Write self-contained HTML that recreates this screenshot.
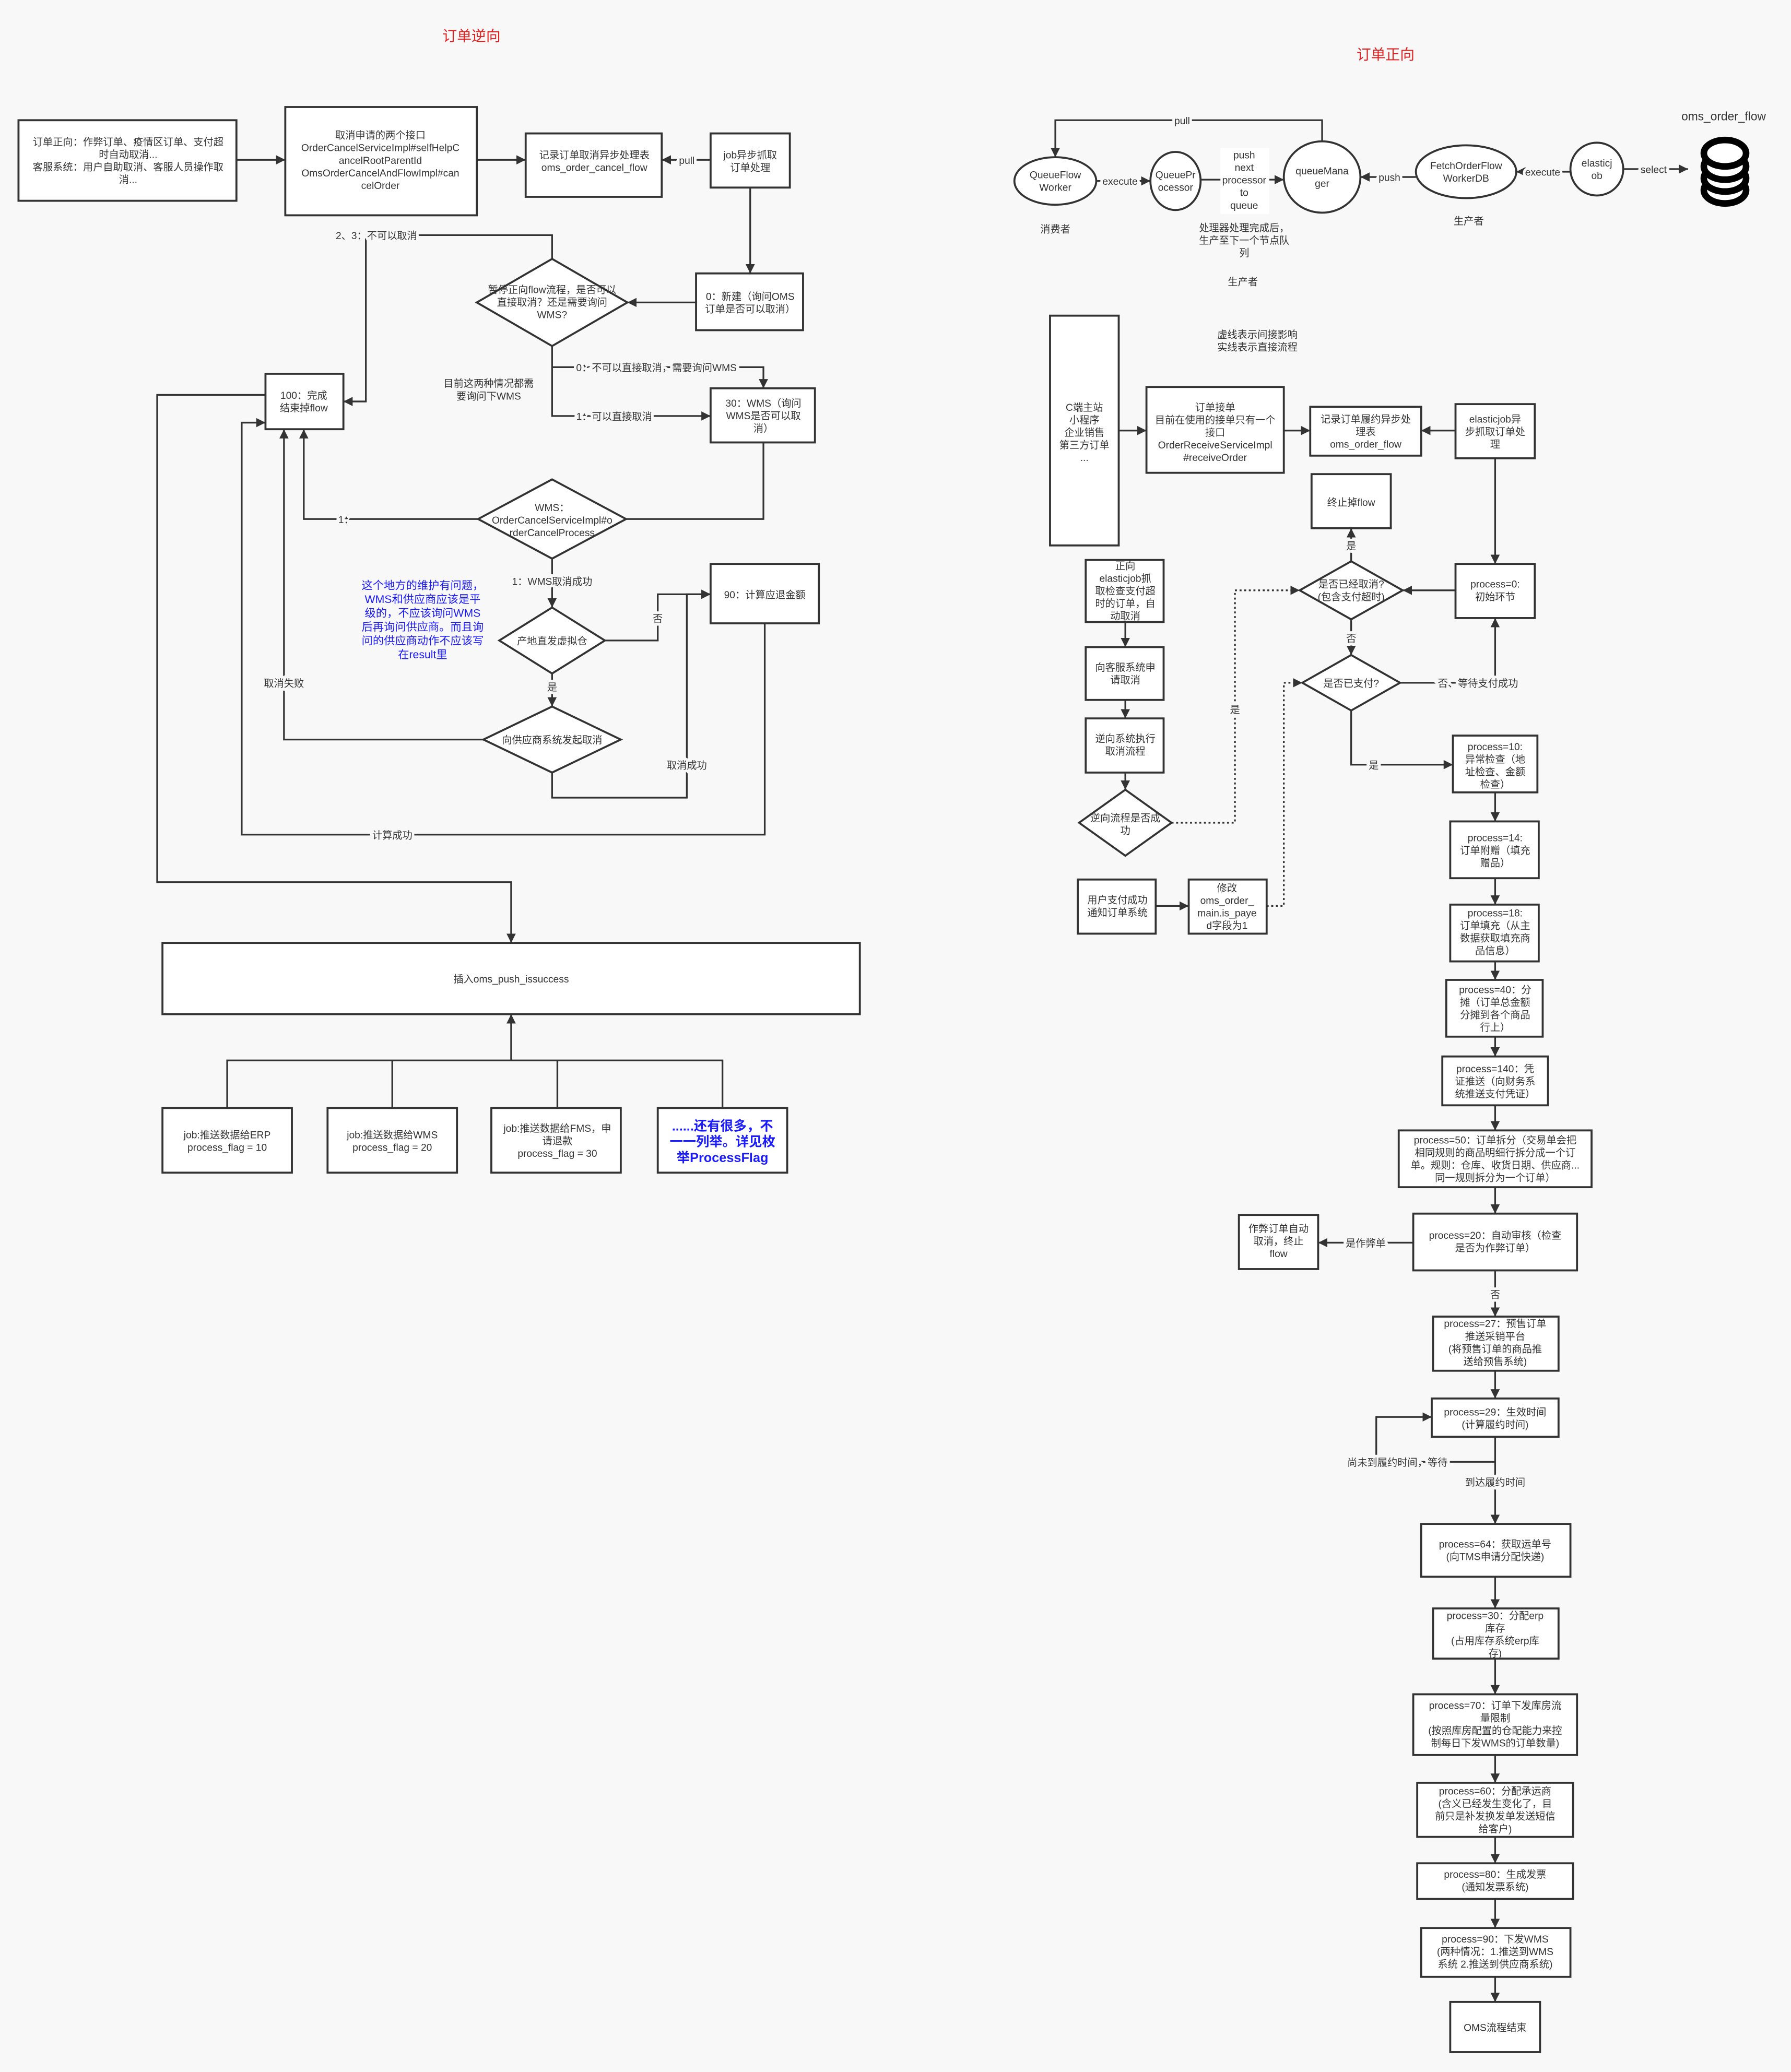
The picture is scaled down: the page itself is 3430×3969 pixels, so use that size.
<!DOCTYPE html>
<html><head><meta charset="utf-8"><style>
html,body{margin:0;padding:0;background:#f8f8f8;}
svg{display:block;}
text{font-family:"Liberation Sans","Noto Sans CJK SC",sans-serif;font-size:7.6px;fill:#333;text-anchor:middle;}
.l{paint-order:stroke;stroke:#f8f8f8;stroke-width:4px;}
rect,ellipse,polygon.d{fill:#fff;stroke:#333;stroke-width:1.5;}
path,line{fill:none;stroke:#333;stroke-width:1.3;}
.dot{stroke-dasharray:1.5 2;}
</style></head><body>
<svg width="3430" height="3969" viewBox="0 0 1356 1569" xmlns="http://www.w3.org/2000/svg">
<defs><marker id="a" viewBox="0 0 10 10" refX="10" refY="5" markerWidth="7" markerHeight="7" markerUnits="userSpaceOnUse" orient="auto"><path d="M0,0L10,5L0,10z" style="fill:#333;stroke:none"/></marker></defs>
<rect x="0" y="0" width="1356" height="1569" style="fill:#f8f8f8;stroke:none"/>

<text x="357" y="31" style="fill:#e02020;font-size:11px">订单逆向</text>
<text x="1049" y="45" style="fill:#e02020;font-size:11px">订单正向</text>

<!-- LEFT -->
<rect x="14" y="91" width="165" height="61"/>
<text y="110"><tspan x="97">订单正向：作弊订单、疫情区订单、支付超</tspan><tspan x="97" dy="9.5">时自动取消...</tspan><tspan x="97" dy="9.5">客服系统：用户自助取消、客服人员操作取</tspan><tspan x="97" dy="9.5">消...</tspan></text>
<rect x="216" y="81" width="145" height="82"/>
<text y="105"><tspan x="288">取消申请的两个接口</tspan><tspan x="288" dy="9.5">OrderCancelServiceImpl#selfHelpC</tspan><tspan x="288" dy="9.5">ancelRootParentId</tspan><tspan x="288" dy="9.5">OmsOrderCancelAndFlowImpl#can</tspan><tspan x="288" dy="9.5">celOrder</tspan></text>
<rect x="398" y="101" width="103" height="48"/>
<text y="120"><tspan x="450">记录订单取消异步处理表</tspan><tspan x="450" dy="9.5">oms_order_cancel_flow</tspan></text>
<rect x="538" y="101" width="60" height="41"/>
<text y="120"><tspan x="568">job异步抓取</tspan><tspan x="568" dy="9.5">订单处理</tspan></text>
<line x1="179" y1="121" x2="216" y2="121" marker-end="url(#a)"/>
<line x1="361" y1="121" x2="398" y2="121" marker-end="url(#a)"/>
<line x1="538" y1="121" x2="501" y2="121" marker-end="url(#a)"/>
<text x="520" y="124" class="l">pull</text>
<line x1="568" y1="142" x2="568" y2="207" marker-end="url(#a)"/>
<rect x="527" y="207" width="81" height="43"/>
<text y="227"><tspan x="568">0：新建（询问OMS</tspan><tspan x="568" dy="9.5">订单是否可以取消）</tspan></text>
<polygon class="d" points="418,196 475,229 418,262 361,229"/>
<text y="222"><tspan x="418">暂停正向flow流程，是否可以</tspan><tspan x="418" dy="9.5">直接取消？还是需要询问</tspan><tspan x="418" dy="9.5">WMS?</tspan></text>
<line x1="527" y1="229" x2="475" y2="229" marker-end="url(#a)"/>
<path d="M418,196V178H277V304H260" marker-end="url(#a)"/>
<text x="285" y="181" class="l">2、3：不可以取消</text>
<rect x="201" y="283" width="59" height="42"/>
<text y="302"><tspan x="230">100：完成</tspan><tspan x="230" dy="9.5">结束掉flow</tspan></text>
<path d="M418,262V315H538" marker-end="url(#a)"/>
<path d="M418,278H578V294" marker-end="url(#a)"/>
<text x="497" y="281" class="l">0：不可以直接取消，需要询问WMS</text>
<text x="465" y="318" class="l">1：可以直接取消</text>
<text y="293"><tspan x="370">目前这两种情况都需</tspan><tspan x="370" dy="9.5">要询问下WMS</tspan></text>
<rect x="538" y="294" width="79" height="41"/>
<text y="308"><tspan x="578">30：WMS（询问</tspan><tspan x="578" dy="9.5">WMS是否可以取</tspan><tspan x="578" dy="9.5">消）</tspan></text>
<path d="M578,335V393H474"/>
<polygon class="d" points="418,363 474,393 418,423 362,393"/>
<text y="387"><tspan x="418">WMS：</tspan><tspan x="418" dy="9.5">OrderCancelServiceImpl#o</tspan><tspan x="418" dy="9.5">rderCancelProcess</tspan></text>
<path d="M362,393H230V325" marker-end="url(#a)"/>
<text x="262" y="396" class="l">1：</text>
<line x1="418" y1="423" x2="418" y2="460" marker-end="url(#a)"/>
<text x="418" y="443" class="l">1：WMS取消成功</text>
<polygon class="d" points="418,460 458,485 418,510 378,485"/>
<text x="418" y="488">产地直发虚拟仓</text>
<path d="M458,485H498V450H538" marker-end="url(#a)"/>
<text x="498" y="471" class="l">否</text>
<rect x="538" y="427" width="82" height="45"/>
<text x="579" y="453">90：计算应退金额</text>
<line x1="418" y1="510" x2="418" y2="535" marker-end="url(#a)"/>
<text x="418" y="523" class="l">是</text>
<polygon class="d" points="418,535 470,560 418,585 366,560"/>
<text x="418" y="563">向供应商系统发起取消</text>
<path d="M366,560H215V325" marker-end="url(#a)"/>
<text x="215" y="520" class="l">取消失败</text>
<path d="M418,585V604H520V450H538" marker-end="url(#a)"/>
<text x="520" y="582" class="l">取消成功</text>
<path d="M579,472V632H183V320H201" marker-end="url(#a)"/>
<text x="297" y="635" class="l">计算成功</text>
<path d="M201,299H119V668H387V714" marker-end="url(#a)"/>
<text y="446" style="fill:#1a1aff;font-size:8.4px"><tspan x="320">这个地方的维护有问题，</tspan><tspan x="320" dy="10.5">WMS和供应商应该是平</tspan><tspan x="320" dy="10.5">级的，不应该询问WMS</tspan><tspan x="320" dy="10.5">后再询问供应商。而且询</tspan><tspan x="320" dy="10.5">问的供应商动作不应该写</tspan><tspan x="320" dy="10.5">在result里</tspan></text>
<rect x="123" y="714" width="528" height="54"/>
<text x="387" y="744">插入oms_push_issuccess</text>
<line x1="387" y1="803" x2="387" y2="768" marker-end="url(#a)"/>
<path d="M172,839V803H547V839M297,803V839M422,803V839"/>
<rect x="123" y="839" width="98" height="49"/>
<text y="862"><tspan x="172">job:推送数据给ERP</tspan><tspan x="172" dy="9.5">process_flag = 10</tspan></text>
<rect x="248" y="839" width="98" height="49"/>
<text y="862"><tspan x="297">job:推送数据给WMS</tspan><tspan x="297" dy="9.5">process_flag = 20</tspan></text>
<rect x="372" y="839" width="98" height="49"/>
<text y="857"><tspan x="422">job:推送数据给FMS，申</tspan><tspan x="422" dy="9.5">请退款</tspan><tspan x="422" dy="9.5">process_flag = 30</tspan></text>
<rect x="498" y="839" width="98" height="49"/>
<text y="856" style="fill:#1a1aff;font-size:10px;font-weight:bold"><tspan x="547">......还有很多，不</tspan><tspan x="547" dy="12">一一列举。详见枚</tspan><tspan x="547" dy="12">举ProcessFlag</tspan></text>

<!-- RIGHT TOP -->
<path d="M1001,107V91H799V119" marker-end="url(#a)"/>
<text x="895" y="94" class="l">pull</text>
<ellipse cx="799" cy="137" rx="31" ry="18"/>
<text y="135"><tspan x="799">QueueFlow</tspan><tspan x="799" dy="9.5">Worker</tspan></text>
<ellipse cx="890" cy="137" rx="19" ry="22"/>
<text y="135"><tspan x="890">QueuePr</tspan><tspan x="890" dy="9.5">ocessor</tspan></text>
<ellipse cx="1001" cy="134" rx="29" ry="27"/>
<text y="132"><tspan x="1001">queueMana</tspan><tspan x="1001" dy="9.5">ger</tspan></text>
<ellipse cx="1110" cy="130" rx="38" ry="20"/>
<text y="128"><tspan x="1110">FetchOrderFlow</tspan><tspan x="1110" dy="9.5">WorkerDB</tspan></text>
<ellipse cx="1209" cy="128" rx="20" ry="20"/>
<text y="126"><tspan x="1209">elasticj</tspan><tspan x="1209" dy="9.5">ob</tspan></text>
<line x1="830" y1="137" x2="871" y2="137" marker-end="url(#a)"/>
<text x="848" y="140" class="l">execute</text>
<line x1="909" y1="136" x2="972" y2="136" marker-end="url(#a)"/>
<rect x="924" y="112" width="37" height="50" style="fill:#fff;stroke:none"/>
<text y="120"><tspan x="942">push</tspan><tspan x="942" dy="9.5">next</tspan><tspan x="942" dy="9.5">processor</tspan><tspan x="942" dy="9.5">to</tspan><tspan x="942" dy="9.5">queue</tspan></text>
<line x1="1072" y1="134" x2="1030" y2="134" marker-end="url(#a)"/>
<text x="1052" y="137" class="l">push</text>
<line x1="1189" y1="130" x2="1148" y2="130" marker-end="url(#a)"/>
<text x="1168" y="133" class="l">execute</text>
<line x1="1229" y1="128" x2="1278" y2="128" marker-end="url(#a)"/>
<text x="1252" y="131" class="l">select</text>
<text x="1305" y="91" style="font-size:9px">oms_order_flow</text>
<g style="fill:#fff;stroke:#000;stroke-width:5">
<ellipse cx="1306" cy="144" rx="16" ry="10" style="fill:#fff;stroke:#000;stroke-width:5"/>
<ellipse cx="1306" cy="135" rx="16" ry="10" style="fill:#fff;stroke:#000;stroke-width:5"/>
<ellipse cx="1306" cy="126" rx="16" ry="10" style="fill:#fff;stroke:#000;stroke-width:5"/>
<ellipse cx="1306" cy="116" rx="16" ry="10" style="fill:#fff;stroke:#000;stroke-width:5"/>
</g>
<text x="799" y="176">消费者</text>
<text y="175"><tspan x="942">处理器处理完成后，</tspan><tspan x="942" dy="9.5">生产至下一个节点队</tspan><tspan x="942" dy="9.5">列</tspan></text>
<text x="941" y="216">生产者</text>
<text x="1112" y="170">生产者</text>
<text y="256"><tspan x="952">虚线表示间接影响</tspan><tspan x="952" dy="9.5">实线表示直接流程</tspan></text>

<!-- RIGHT FLOW -->
<rect x="795" y="239" width="52" height="174"/>
<text y="311"><tspan x="821">C端主站</tspan><tspan x="821" dy="9.5">小程序</tspan><tspan x="821" dy="9.5">企业销售</tspan><tspan x="821" dy="9.5">第三方订单</tspan><tspan x="821" dy="9.5">...</tspan></text>
<line x1="847" y1="326" x2="868" y2="326" marker-end="url(#a)"/>
<rect x="868" y="293" width="104" height="65"/>
<text y="311"><tspan x="920">订单接单</tspan><tspan x="920" dy="9.5">目前在使用的接单只有一个</tspan><tspan x="920" dy="9.5">接口</tspan><tspan x="920" dy="9.5">OrderReceiveServiceImpl</tspan><tspan x="920" dy="9.5">#receiveOrder</tspan></text>
<line x1="972" y1="326" x2="992" y2="326" marker-end="url(#a)"/>
<rect x="992" y="308" width="84" height="37"/>
<text y="320"><tspan x="1034">记录订单履约异步处</tspan><tspan x="1034" dy="9.5">理表</tspan><tspan x="1034" dy="9.5">oms_order_flow</tspan></text>
<line x1="1102" y1="326" x2="1076" y2="326" marker-end="url(#a)"/>
<rect x="1102" y="306" width="60" height="41"/>
<text y="320"><tspan x="1132">elasticjob异</tspan><tspan x="1132" dy="9.5">步抓取订单处</tspan><tspan x="1132" dy="9.5">理</tspan></text>
<line x1="1132" y1="347" x2="1132" y2="427" marker-end="url(#a)"/>
<rect x="1102" y="427" width="60" height="41"/>
<text y="445"><tspan x="1132">process=0:</tspan><tspan x="1132" dy="9.5">初始环节</tspan></text>
<polygon class="d" points="1023,425 1062,447 1023,469 984,447"/>
<text y="445"><tspan x="1023">是否已经取消?</tspan><tspan x="1023" dy="9.5">(包含支付超时)</tspan></text>
<line x1="1102" y1="447" x2="1062" y2="447" marker-end="url(#a)"/>
<line x1="1023" y1="425" x2="1023" y2="400" marker-end="url(#a)"/>
<text x="1023" y="416" class="l">是</text>
<rect x="993" y="359" width="60" height="41"/>
<text x="1023" y="383">终止掉flow</text>
<line x1="1023" y1="469" x2="1023" y2="496" marker-end="url(#a)"/>
<text x="1023" y="486" class="l">否</text>
<polygon class="d" points="1023,496 1060,517 1023,538 986,517"/>
<text x="1023" y="520">是否已支付?</text>
<path d="M1060,517H1132V468" marker-end="url(#a)"/>
<text x="1119" y="520" class="l">否、等待支付成功</text>
<path d="M1023,538V579H1100" marker-end="url(#a)"/>
<text x="1040" y="582" class="l">是</text>
<rect x="1100" y="557" width="64" height="43"/>
<text y="568"><tspan x="1132">process=10:</tspan><tspan x="1132" dy="9.5">异常检查（地</tspan><tspan x="1132" dy="9.5">址检查、金额</tspan><tspan x="1132" dy="9.5">检查）</tspan></text>
<line x1="1132" y1="600" x2="1132" y2="622" marker-end="url(#a)"/>
<rect x="1098" y="622" width="67" height="43"/>
<text y="637"><tspan x="1132">process=14:</tspan><tspan x="1132" dy="9.5">订单附赠（填充</tspan><tspan x="1132" dy="9.5">赠品）</tspan></text>
<line x1="1132" y1="665" x2="1132" y2="685" marker-end="url(#a)"/>
<rect x="1098" y="685" width="67" height="43"/>
<text y="694"><tspan x="1132">process=18:</tspan><tspan x="1132" dy="9.5">订单填充（从主</tspan><tspan x="1132" dy="9.5">数据获取填充商</tspan><tspan x="1132" dy="9.5">品信息）</tspan></text>
<line x1="1132" y1="728" x2="1132" y2="742" marker-end="url(#a)"/>
<rect x="1095" y="742" width="73" height="43"/>
<text y="752"><tspan x="1132">process=40：分</tspan><tspan x="1132" dy="9.5">摊（订单总金额</tspan><tspan x="1132" dy="9.5">分摊到各个商品</tspan><tspan x="1132" dy="9.5">行上）</tspan></text>
<line x1="1132" y1="785" x2="1132" y2="800" marker-end="url(#a)"/>
<rect x="1092" y="800" width="80" height="37"/>
<text y="812"><tspan x="1132">process=140：凭</tspan><tspan x="1132" dy="9.5">证推送（向财务系</tspan><tspan x="1132" dy="9.5">统推送支付凭证）</tspan></text>
<line x1="1132" y1="837" x2="1132" y2="856" marker-end="url(#a)"/>
<rect x="1059" y="856" width="146" height="43"/>
<text y="866"><tspan x="1132">process=50：订单拆分（交易单会把</tspan><tspan x="1132" dy="9.5">相同规则的商品明细行拆分成一个订</tspan><tspan x="1132" dy="9.5">单。规则：仓库、收货日期、供应商...</tspan><tspan x="1132" dy="9.5">同一规则拆分为一个订单）</tspan></text>
<line x1="1132" y1="899" x2="1132" y2="919" marker-end="url(#a)"/>
<rect x="1070" y="919" width="124" height="43"/>
<text y="938"><tspan x="1132">process=20：自动审核（检查</tspan><tspan x="1132" dy="9.5">是否为作弊订单）</tspan></text>
<line x1="1070" y1="941" x2="998" y2="941" marker-end="url(#a)"/>
<text x="1034" y="944" class="l">是作弊单</text>
<rect x="938" y="920" width="60" height="41"/>
<text y="933"><tspan x="968">作弊订单自动</tspan><tspan x="968" dy="9.5">取消，终止</tspan><tspan x="968" dy="9.5">flow</tspan></text>
<line x1="1132" y1="962" x2="1132" y2="997" marker-end="url(#a)"/>
<text x="1132" y="983" class="l">否</text>
<rect x="1085" y="997" width="95" height="41"/>
<text y="1005"><tspan x="1132">process=27：预售订单</tspan><tspan x="1132" dy="9.5">推送采销平台</tspan><tspan x="1132" dy="9.5">(将预售订单的商品推</tspan><tspan x="1132" dy="9.5">送给预售系统)</tspan></text>
<line x1="1132" y1="1038" x2="1132" y2="1059" marker-end="url(#a)"/>
<rect x="1084" y="1059" width="96" height="29"/>
<text y="1072"><tspan x="1132">process=29：生效时间</tspan><tspan x="1132" dy="9.5">(计算履约时间)</tspan></text>
<line x1="1132" y1="1088" x2="1132" y2="1154" marker-end="url(#a)"/>
<path d="M1132,1107H1042V1073H1084" marker-end="url(#a)"/>
<text x="1058" y="1110" class="l">尚未到履约时间，等待</text>
<text x="1132" y="1125" class="l">到达履约时间</text>
<rect x="1076" y="1154" width="113" height="40"/>
<text y="1172"><tspan x="1132">process=64：获取运单号</tspan><tspan x="1132" dy="9.5">(向TMS申请分配快递)</tspan></text>
<line x1="1132" y1="1194" x2="1132" y2="1218" marker-end="url(#a)"/>
<rect x="1085" y="1218" width="95" height="38"/>
<text y="1226"><tspan x="1132">process=30：分配erp</tspan><tspan x="1132" dy="9.5">库存</tspan><tspan x="1132" dy="9.5">(占用库存系统erp库</tspan><tspan x="1132" dy="9.5">存)</tspan></text>
<line x1="1132" y1="1256" x2="1132" y2="1283" marker-end="url(#a)"/>
<rect x="1070" y="1283" width="124" height="46"/>
<text y="1294"><tspan x="1132">process=70：订单下发库房流</tspan><tspan x="1132" dy="9.5">量限制</tspan><tspan x="1132" dy="9.5">(按照库房配置的仓配能力来控</tspan><tspan x="1132" dy="9.5">制每日下发WMS的订单数量)</tspan></text>
<line x1="1132" y1="1329" x2="1132" y2="1350" marker-end="url(#a)"/>
<rect x="1073" y="1350" width="118" height="41"/>
<text y="1359"><tspan x="1132">process=60：分配承运商</tspan><tspan x="1132" dy="9.5">(含义已经发生变化了，目</tspan><tspan x="1132" dy="9.5">前只是补发换发单发送短信</tspan><tspan x="1132" dy="9.5">给客户)</tspan></text>
<line x1="1132" y1="1391" x2="1132" y2="1411" marker-end="url(#a)"/>
<rect x="1073" y="1411" width="118" height="27"/>
<text y="1422"><tspan x="1132">process=80：生成发票</tspan><tspan x="1132" dy="9.5">(通知发票系统)</tspan></text>
<line x1="1132" y1="1438" x2="1132" y2="1460" marker-end="url(#a)"/>
<rect x="1076" y="1460" width="113" height="37"/>
<text y="1471"><tspan x="1132">process=90：下发WMS</tspan><tspan x="1132" dy="9.5">(两种情况：1.推送到WMS</tspan><tspan x="1132" dy="9.5">系统 2.推送到供应商系统)</tspan></text>
<line x1="1132" y1="1497" x2="1132" y2="1516" marker-end="url(#a)"/>
<rect x="1098" y="1516" width="68" height="38"/>
<text x="1132" y="1538">OMS流程结束</text>

<rect x="822" y="424" width="59" height="47"/>
<text y="431"><tspan x="852">正向</tspan><tspan x="852" dy="9.5">elasticjob抓</tspan><tspan x="852" dy="9.5">取检查支付超</tspan><tspan x="852" dy="9.5">时的订单，自</tspan><tspan x="852" dy="9.5">动取消</tspan></text>
<line x1="852" y1="471" x2="852" y2="490" marker-end="url(#a)"/>
<rect x="822" y="490" width="59" height="40"/>
<text y="508"><tspan x="852">向客服系统申</tspan><tspan x="852" dy="9.5">请取消</tspan></text>
<line x1="852" y1="530" x2="852" y2="544" marker-end="url(#a)"/>
<rect x="822" y="544" width="59" height="41"/>
<text y="562"><tspan x="852">逆向系统执行</tspan><tspan x="852" dy="9.5">取消流程</tspan></text>
<line x1="852" y1="585" x2="852" y2="598" marker-end="url(#a)"/>
<polygon class="d" points="852,598 887,623 852,648 817,623"/>
<text y="622"><tspan x="852">逆向流程是否成</tspan><tspan x="852" dy="9.5">功</tspan></text>
<path class="dot" d="M887,623H935V447H984" marker-end="url(#a)"/>
<text x="935" y="540" class="l">是</text>
<rect x="816" y="666" width="59" height="41"/>
<text y="684"><tspan x="846">用户支付成功</tspan><tspan x="846" dy="9.5">通知订单系统</tspan></text>
<line x1="875" y1="686" x2="900" y2="686" marker-end="url(#a)"/>
<rect x="900" y="666" width="59" height="41"/>
<text y="675"><tspan x="929">修改</tspan><tspan x="929" dy="9.5">oms_order_</tspan><tspan x="929" dy="9.5">main.is_paye</tspan><tspan x="929" dy="9.5">d字段为1</tspan></text>
<path class="dot" d="M959,686H972V517H986" marker-end="url(#a)"/>
</svg>
</body></html>
